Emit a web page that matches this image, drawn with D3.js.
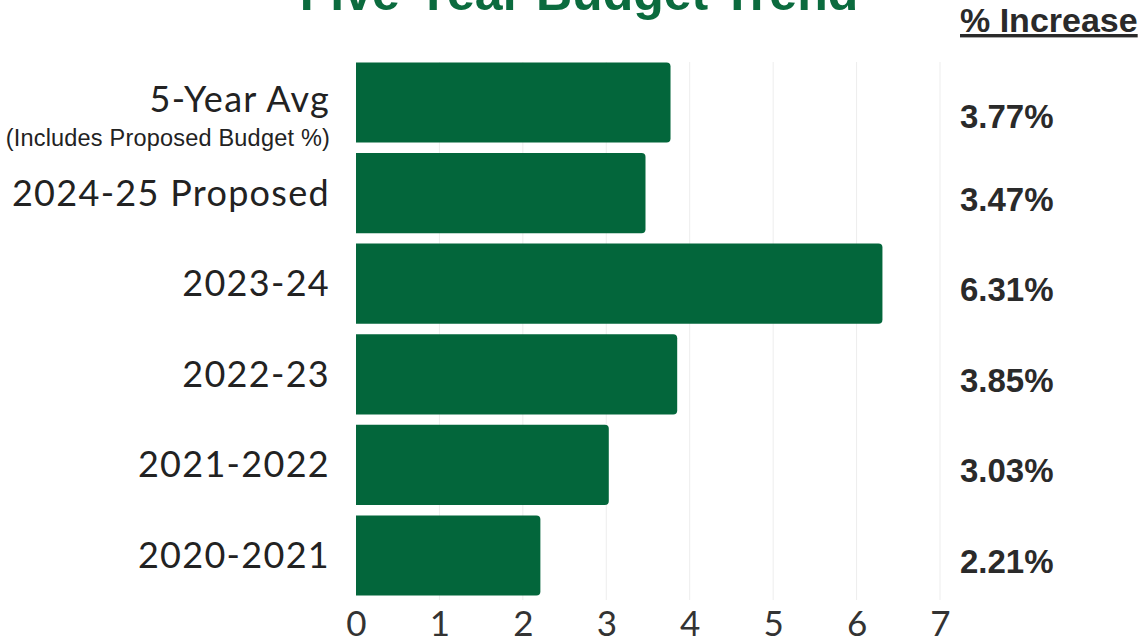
<!DOCTYPE html>
<html>
<head>
<meta charset="utf-8">
<script src="https://cdn.jsdelivr.net/npm/d3@7"></script>
<style>
  body { margin: 0; background: #fff; }
</style>
</head>
<body>
<div id="chart"></div>
<script>
var categories = ["5-Year Avg", "2024-25 Proposed", "2023-24", "2022-23", "2021-2022", "2020-2021"];
var subLabels = ["(Includes Proposed Budget %)", "", "", "", "", ""];
var values = [3.77, 3.47, 6.31, 3.85, 3.03, 2.21];
var valueLabels = ["3.77%", "3.47%", "6.31%", "3.85%", "3.03%", "2.21%"];
var xTicks = [0, 1, 2, 3, 4, 5, 6, 7];

var W = 1144, H = 644;
var green = "#03663b";

var svg = d3.select("#chart").append("svg").attr("width", W).attr("height", H);

var x = d3.scaleLinear().domain([0, 7]).range([356, 940]);
var y = d3.scaleBand().domain(categories).range([57, 601]).paddingInner(0.115).paddingOuter(0.06);

// faint vertical gridlines
svg.append("g").selectAll("line").data(xTicks.slice(1)).enter().append("line")
    .attr("x1", d => x(d)).attr("x2", d => x(d))
    .attr("y1", 62).attr("y2", 600)
    .attr("stroke", "#ededed").attr("stroke-width", 1);

// bars, rounded on the right end only
var r = 4;
svg.append("g").selectAll("path").data(values).enter().append("path")
    .attr("d", function(d, i) {
        var x0 = x(0), x1 = x(d), y0 = y(categories[i]), h = y.bandwidth();
        return "M" + x0 + "," + y0 + "H" + (x1 - r) + "Q" + x1 + "," + y0 + " " + x1 + "," + (y0 + r)
            + "V" + (y0 + h - r) + "Q" + x1 + "," + (y0 + h) + " " + (x1 - r) + "," + (y0 + h) + "H" + x0 + "Z";
    })
    .attr("fill", green);

// category labels
var lab = svg.append("g").attr("font-family", "Lato, sans-serif").attr("fill", "#222");
categories.forEach(function(c, i) {
    var cy = y(c) + y.bandwidth() / 2;
    lab.append("text").attr("x", 330).attr("y", subLabels[i] ? cy - 3 : cy)
        .attr("dy", "0.35em").attr("text-anchor", "end")
        .attr("font-size", 36).attr("letter-spacing", 1.3).text(c);
    if (subLabels[i]) {
        lab.append("text").attr("x", 330).attr("y", cy + 35)
            .attr("dy", "0.35em").attr("text-anchor", "end")
            .attr("font-family", "Liberation Sans, Arial, sans-serif")
            .attr("font-size", 23.5).attr("letter-spacing", 0.2).text(subLabels[i]);
    }
});

// value column
svg.append("g").selectAll("text").data(valueLabels).enter().append("text")
    .attr("x", 960)
    .attr("y", (d, i) => y(categories[i]) + y.bandwidth() / 2 + (i === 0 ? 14 : 6))
    .attr("dy", "0.35em")
    .attr("font-family", "Liberation Sans, Arial, sans-serif")
    .attr("font-weight", "bold").attr("font-size", 33).attr("fill", "#2a2a2a")
    .text(d => d);

svg.append("text").attr("x", 960).attr("y", 32)
    .attr("font-family", "Liberation Sans, Arial, sans-serif")
    .attr("font-weight", "bold").attr("font-size", 34).attr("fill", "#2a2a2a")
    .attr("text-decoration", "underline")
    .text("% Increase");

// title (cropped at the top of the picture)
svg.append("text").attr("x", 579).attr("y", 10).attr("text-anchor", "middle")
    .attr("font-family", "Liberation Sans, Arial, sans-serif")
    .attr("font-weight", "bold").attr("font-size", 50).attr("fill", "#0b6b3e")
    .text("Five-Year Budget Trend");

// x axis tick labels
var xAxis = d3.axisBottom(x).tickValues(xTicks).tickFormat(d3.format("d")).tickSize(0).tickPadding(0);
var gx = svg.append("g").attr("transform", "translate(0,611)").call(xAxis);
gx.select(".domain").remove();
gx.selectAll("text").attr("font-family", "Lato, sans-serif").attr("font-size", 35)
    .attr("fill", "#333").attr("dy", "0.71em");
</script>
</body>
</html>
